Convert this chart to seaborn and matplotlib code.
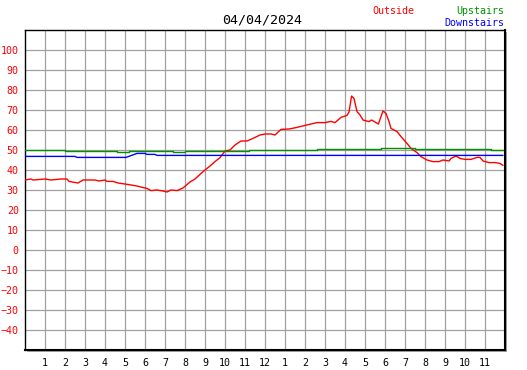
import matplotlib
matplotlib.use("Agg")
import matplotlib.pyplot as plt
from matplotlib.patches import Rectangle
import seaborn as sns

# Datos (hora del dia, grados F)
out_hours = [0, 0.3, 0.4, 1.0, 1.3, 1.8, 2.1, 2.2, 2.65, 2.9, 3.5, 3.7, 4.0, 4.1, 4.4,
             4.65, 5.0, 5.3, 5.6, 5.9, 6.1, 6.3, 6.6, 6.9, 7.1, 7.3, 7.6, 7.9, 8.25,
             8.5, 8.75, 9.0, 9.25, 9.5, 9.75, 10.0, 10.25, 10.5, 10.8, 11.1, 11.4,
             11.75, 12.0, 12.3, 12.5, 12.8, 13.2, 13.6, 14.0, 14.6, 15.0, 15.3, 15.5,
             15.8, 16.1, 16.2, 16.33, 16.45, 16.6, 16.75, 16.9, 17.2, 17.33, 17.5,
             17.67, 17.8, 17.9, 18.05, 18.2, 18.3, 18.6, 18.8, 19.1, 19.3, 19.6, 19.8,
             20.1, 20.4, 20.7, 20.9, 21.2, 21.3, 21.55, 21.75, 22.0, 22.3, 22.6, 22.75,
             22.9, 23.2, 23.5, 23.75, 23.9]
out_vals = [35, 35.5, 35, 35.5, 35, 35.5, 35.5, 34.3, 33.5, 35, 35, 34.5, 35, 34.3, 34.3,
            33.5, 33, 32.5, 32, 31.2, 30.8, 29.7, 30, 29.5, 29, 30, 29.7, 31, 34,
            35.5, 37.8, 40, 42, 44.2, 46.2, 49.5, 50, 52.5, 54.5, 54.5, 55.8,
            57.5, 58, 58, 57.5, 60.3, 60.5, 61.3, 62.3, 63.7, 63.7, 64.3, 63.7,
            66.3, 67.3, 69, 77, 75.8, 69.2, 67.5, 65, 64.2, 65, 64,
            63, 66.7, 69.5, 68.3, 64.2, 60.8, 59.2, 56.7, 53.3, 50.8, 48.7, 46.7,
            45, 44.2, 44.2, 45, 44.5, 45.8, 47, 45.8, 45.3, 45.3, 46.3, 46.3,
            44.5, 43.7, 43.7, 43.3, 42.3]

up_hours = [0, 2.0, 4.6, 5.2, 7.4, 8.0, 11.2, 14.6, 17.8, 19.5, 23.3, 23.9]
up_vals = [50, 49.5, 49, 49.5, 49, 49.5, 50, 50.3, 50.8, 50.3, 49.8, 49.8]

down_hours = [0, 2.5, 2.6, 5.05, 5.6, 6.0, 6.1, 6.5, 6.6, 23.9]
down_vals = [46.8, 46.8, 46.3, 46.3, 48.3, 48.3, 47.8, 47.8, 47.3, 47.3]

hour_ticks = list(range(1, 24))
hour_labels = [str(h if h <= 12 else h - 12) for h in hour_ticks]
temp_ticks = list(range(-40, 101, 10))

sns.set_style("white")
plt.rcParams['font.family'] = ['DejaVu Sans Mono']

W, H = 527, 370
fig = plt.figure(figsize=(W / 100, H / 100), dpi=100)

# sombra gris a la derecha y abajo del cuadro
fig.patches.append(Rectangle(((25 + 2) / W, (H - 352) / H), 480 / W, 320 / H,
                             transform=fig.transFigure, facecolor='#a0a0a0',
                             edgecolor='none', zorder=0))

ax = fig.add_axes([25 / W, (H - 350) / H, 480 / W, 320 / H])
ax.set_zorder(2)
ax.set_facecolor('white')

sns.lineplot(x=out_hours, y=out_vals, color='red', lw=1, ax=ax, zorder=3)
sns.lineplot(x=up_hours, y=up_vals, color='#009000', lw=1, ax=ax,
             drawstyle='steps-post', zorder=3)
sns.lineplot(x=down_hours, y=down_vals, color='blue', lw=1, ax=ax, zorder=3)

ax.set_xlim(0, 24)
ax.set_ylim(-50, 110)
ax.set_xticks(hour_ticks)
ax.set_xticklabels(hour_labels)
ax.set_yticks(temp_ticks)
ax.grid(True, color='#a0a0a0', lw=0.9)
ax.set_axisbelow(True)

ax.tick_params(axis='x', direction='in', length=4, width=1, pad=6,
               labelsize=7.2, colors='black')
ax.tick_params(axis='y', direction='out', length=4, width=1, pad=0.5,
               labelsize=7.2, colors='black', labelcolor='red')
ax.set_xlabel('')
ax.set_ylabel('')
for side in ['left', 'top']:
    ax.spines[side].set_color('black')
    ax.spines[side].set_linewidth(1)
for side in ['right', 'bottom']:
    ax.spines[side].set_color('black')
    ax.spines[side].set_linewidth(1.5)

fig.text(262 / W, 1 - 20 / H, '04/04/2024', ha='center', va='center',
         fontsize=9.6, color='black')
fig.text(393 / W, 1 - 11 / H, 'Outside', ha='center', va='center',
         fontsize=7.2, color='red')
fig.text(504.5 / W, 1 - 11 / H, 'Upstairs', ha='right', va='center',
         fontsize=7.2, color='#009000')
fig.text(504.5 / W, 1 - 23 / H, 'Downstairs', ha='right', va='center',
         fontsize=7.2, color='blue')

fig.savefig('out.png', dpi=100, facecolor='white')
